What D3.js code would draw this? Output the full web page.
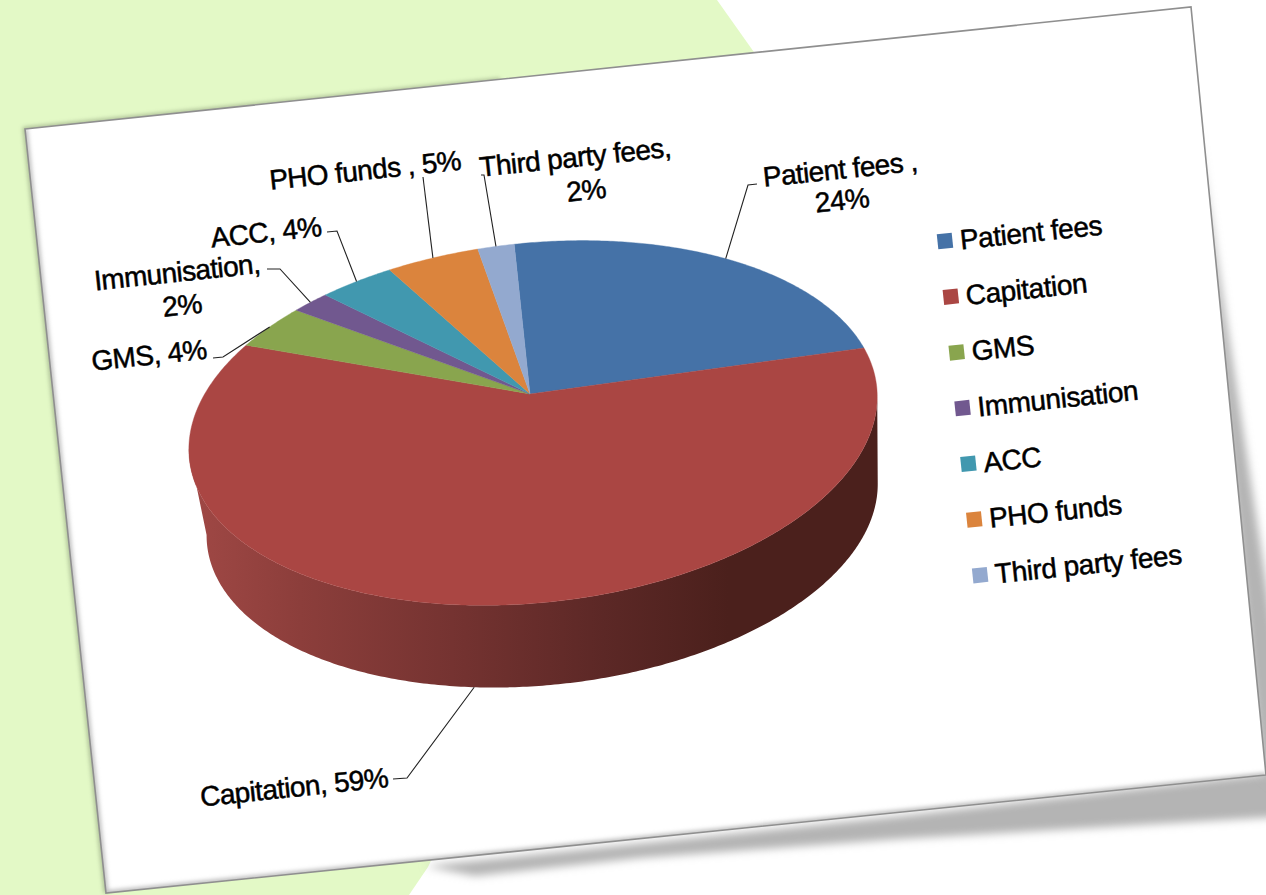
<!DOCTYPE html>
<html>
<head>
<meta charset="utf-8">
<script src="https://cdn.jsdelivr.net/npm/d3@7/dist/d3.min.js"></script>
<style>
  html, body { margin: 0; padding: 0; background: #fff; overflow: hidden; }
  text { font-family: "Liberation Sans", Arial, sans-serif; fill: #000; stroke: #000; stroke-width: 0.5px; }
</style>
</head>
<body>
<svg id="chart" width="1266" height="895"></svg>
<script>
// Practice revenue by source, percent of total
const categories = ["Patient fees", "Capitation", "GMS", "Immunisation", "ACC", "PHO funds", "Third party fees"];
const shares = [24, 59, 4, 2, 4, 5, 2];
const sliceColors = ["#4572A7", "#AA4643", "#89A54E", "#71588F", "#4198AF", "#DB843D", "#93A9CF"];
const dataLabelLines = [
  ["Patient fees ,", "24%"],
  ["Capitation, 59%"],
  ["GMS, 4%"],
  ["Immunisation,", "2%"],
  ["ACC, 4%"],
  ["PHO funds , 5%"],
  ["Third party fees,", "2%"]
];

// Layout of the tilted sheet and the perspective pie
const TILT = -6 * Math.PI / 180;
const apex = [530, 394];
const pieRadius = 341, foreshorten = 175, perspective = 0.162;
const wallDepth = 88, wallShrink = 0.975;
const sheet = [[25, 129], [1191, 7], [1266, 775], [106, 893]];
const textSize = 28, legendTracking = -0.45, labelTracking = -0.6;

// Centre of each text line and the bends of each leader, by slice
const labelPlacement = [
  { lines: [[840, 169], [842, 200]], bends: [[748, 185], [757, 184]] },
  { lines: [[294, 787]], bends: [[407, 778], [393, 779]] },
  { lines: [[149, 355]], bends: [[223, 357], [213, 358]] },
  { lines: [[177, 272], [182, 305]], bends: [[280, 269], [267, 269]] },
  { lines: [[266, 232]], bends: [[337, 231], [327, 232]] },
  { lines: [[365, 170]], bends: [[423, 177]] },
  { lines: [[575, 157], [586, 190]], bends: [[484, 175], [481, 175]] }
];

const svg = d3.select("#chart");
const defs = svg.append("defs");

const blur = (id, sd) => defs.append("filter").attr("id", id)
  .attr("x", "-20%").attr("y", "-20%").attr("width", "140%").attr("height", "140%")
  .append("feGaussianBlur").attr("stdDeviation", sd);
blur("soft2", 2); blur("soft4", 4);

const wallGradient = defs.append("linearGradient").attr("id", "wall")
  .attr("gradientUnits", "userSpaceOnUse")
  .attr("x1", 190).attr("y1", 0).attr("x2", 880).attr("y2", 0);
[[0, "#a04845"], [0.16, "#8c3e3b"], [0.38, "#753331"], [0.6, "#5c2826"], [0.78, "#4b201c"], [1, "#4b201c"]]
  .forEach(([o, c]) => wallGradient.append("stop").attr("offset", o).attr("stop-color", c));

defs.append("clipPath").attr("id", "sheetClip").append("polygon")
  .attr("points", sheet.map(p => p.join(",")).join(" "));

// Page backdrop
svg.append("polygon")
  .attr("points", "0,0 717,0 756,55 700,300 428,867 409,895 0,895")
  .attr("fill", "#e3f9c6");

// Shadows thrown by the sheet
svg.append("polygon")
  .attr("points", "425,866 900,816 1280,772 1280,817 900,839 640,858 475,876")
  .attr("fill", "#b4b4b4").attr("filter", "url(#soft4)");
svg.append("polygon")
  .attr("points", "1196,120 1275,640 1280,790 1262,775 1210,250")
  .attr("fill", "#b4b4b4").attr("filter", "url(#soft4)");
svg.append("polyline")
  .attr("points", "106,893 25,129 500,80")
  .attr("fill", "none").attr("stroke", "#8a9a78").attr("stroke-width", 4)
  .attr("opacity", 0.7).attr("filter", "url(#soft2)");

// The sheet itself, with a faint inner glow along its left and bottom edges
svg.append("polygon")
  .attr("points", sheet.map(p => p.join(",")).join(" "))
  .attr("fill", "#fff");
svg.append("g").attr("clip-path", "url(#sheetClip)").append("polyline")
  .attr("points", [sheet[0], sheet[3], sheet[2]].map(p => p.join(",")).join(" "))
  .attr("fill", "none").attr("stroke", "#bbb").attr("stroke-width", 5)
  .attr("filter", "url(#soft2)");
svg.append("polygon")
  .attr("points", sheet.map(p => p.join(",")).join(" "))
  .attr("fill", "none").attr("stroke", "#8f8f8f").attr("stroke-width", 1.6);

// Projects a rim angle (clockwise from twelve o'clock) onto the page.
function project(theta, onBase) {
  const w = 1 / (1 + perspective * Math.cos(theta));
  const s = onBase ? wallShrink : 1;
  const lx = pieRadius * Math.sin(theta) * w * s;
  const ly = -foreshorten * Math.cos(theta) * w * s + (onBase ? wallDepth : 0);
  return [
    apex[0] + lx * Math.cos(TILT) - ly * Math.sin(TILT),
    apex[1] + lx * Math.sin(TILT) + ly * Math.cos(TILT)
  ];
}

const arcs = d3.pie().sort(null).value(d => d)(shares);
const lineGen = d3.line();
const rimPoints = (a0, a1) => {
  const n = Math.max(4, Math.ceil((a1 - a0) / 0.01));
  return d3.range(n + 1).map(i => a0 + (a1 - a0) * i / n);
};

// Side wall of the large front slice, bounded by the rim's outermost points
// so that its ends are straight silhouettes.
const front = arcs[1];
const frontAngles = rimPoints(front.startAngle, front.endAngle);
const rightTangent = d3.greatest(frontAngles, a => project(a, false)[0]);
const leftTangent = d3.least(frontAngles, a => project(a, false)[0]);
const wallAngles = rimPoints(rightTangent, leftTangent);
svg.append("path")
  .attr("d", lineGen([
    ...wallAngles.map(a => project(a, false)),
    ...wallAngles.slice().reverse().map(a => project(a, true))
  ]) + "Z")
  .attr("fill", "url(#wall)");

// Top faces
svg.append("g").selectAll("path").data(arcs).join("path")
  .attr("d", d => lineGen([apex, ...rimPoints(d.startAngle, d.endAngle).map(a => project(a, false))]) + "Z")
  .attr("fill", (d, i) => sliceColors[i])
  .attr("stroke", (d, i) => sliceColors[i]).attr("stroke-width", 0.4);

// Leader lines run from each slice's middle to its label
svg.append("g").selectAll("path").data(arcs).join("path")
  .attr("d", (d, i) => {
    const mid = (d.startAngle + d.endAngle) / 2;
    const isFront = Math.cos(mid) < -0.5;
    return lineGen([project(mid, isFront), ...labelPlacement[i].bends]);
  })
  .attr("fill", "none").attr("stroke", "#222").attr("stroke-width", 1.1);

// Data labels
const labelGroup = svg.append("g").attr("font-size", textSize).attr("letter-spacing", labelTracking);
dataLabelLines.forEach((lines, i) => {
  lines.forEach((line, j) => {
    const [cx, cy] = labelPlacement[i].lines[j];
    labelGroup.append("text")
      .attr("transform", `translate(${cx},${cy}) rotate(-6)`)
      .attr("text-anchor", "middle").attr("dy", "0.35em")
      .text(line);
  });
});

// Legend, set out along the sheet's tilt
const legendY = d3.scalePoint().domain(categories).range([0, 336]);
const legend = svg.append("g")
  .attr("transform", "translate(945,241) rotate(-6)")
  .attr("font-size", textSize).attr("letter-spacing", legendTracking);
const row = legend.selectAll("g").data(categories).join("g")
  .attr("transform", d => `translate(0,${legendY(d)})`);
row.append("rect")
  .attr("x", -7.5).attr("y", -7.5).attr("width", 15).attr("height", 15)
  .attr("fill", (d, i) => sliceColors[i]);
row.append("text")
  .attr("x", 15).attr("y", 10)
  .text(d => d);
</script>
</body>
</html>
